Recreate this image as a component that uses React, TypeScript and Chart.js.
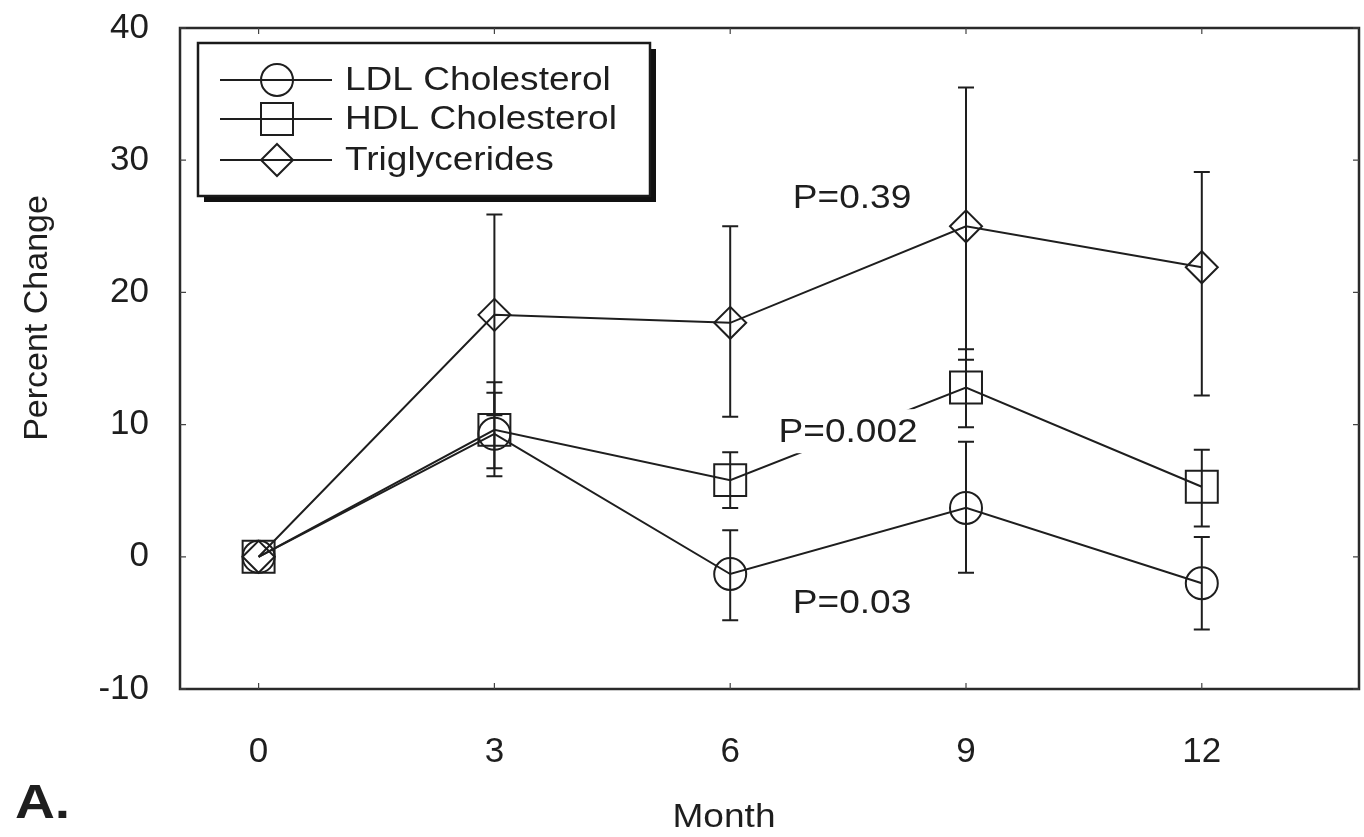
import React, { useEffect, useRef } from 'react';
import { Chart, registerables } from 'chart.js';

Chart.register(...registerables);

// Study visits (months) and axis ticks
const months = [0, 3, 6, 9, 12];
const monthTicks = [0, 3, 6, 9, 12];
const percentTicks = [-10, 0, 10, 20, 30, 40];

const seriesLabels = ['LDL Cholesterol', 'HDL Cholesterol', 'Triglycerides'];

// Mean percent change from baseline
const ldlMean = [0, 9.3, -1.3, 3.7, -2.0];
const hdlMean = [0, 9.6, 5.8, 12.8, 5.3];
const tgMean = [0, 18.3, 17.7, 25.0, 21.9];

// Error bar limits (null = no bar at baseline)
const ldlHigh = [null, 12.4, 2.0, 8.7, 1.5];
const ldlLow = [null, 6.7, -4.8, -1.2, -5.5];
const hdlHigh = [null, 13.2, 7.9, 15.7, 8.1];
const hdlLow = [null, 6.1, 3.7, 9.8, 2.3];
const tgHigh = [null, 25.9, 25.0, 35.5, 29.1];
const tgLow = [null, 10.7, 10.6, 14.9, 12.2];

// P-value notes, placed in data coordinates
const pLabels = ['P=0.39', 'P=0.002', 'P=0.03'];
const pLabelMonth = [7.55, 7.5, 7.55];
const pLabelValue = [27.2, 9.5, -3.5];

const FONT = '"Liberation Sans", Arial, Helvetica, sans-serif';
const INK = '#1e1e1e';
const WIDE = 1.09; // lettering is set slightly wide

const pointStyles = ['circle', 'rect', 'rectRot'];
const pointRadii = [16, 22.6, 16];

function wideText(ctx: CanvasRenderingContext2D, text: string, x: number, y: number, sx: number) {
  ctx.save();
  ctx.translate(x, y);
  ctx.scale(sx, 1);
  ctx.fillText(text, 0, 0);
  ctx.restore();
}

function drawMarker(ctx: CanvasRenderingContext2D, style: string, x: number, y: number) {
  ctx.beginPath();
  if (style === 'circle') {
    ctx.arc(x, y, 16, 0, Math.PI * 2);
  } else if (style === 'rect') {
    ctx.rect(x - 16, y - 16, 32, 32);
  } else {
    ctx.moveTo(x, y - 16);
    ctx.lineTo(x + 16, y);
    ctx.lineTo(x, y + 16);
    ctx.lineTo(x - 16, y);
    ctx.closePath();
  }
  ctx.stroke();
}

const framePlugin = {
  id: 'frame',
  beforeDatasetsDraw(chart: any) {
    const { ctx, chartArea: a, scales } = chart;
    ctx.save();
    ctx.strokeStyle = '#2a2a2a';
    ctx.lineWidth = 2.5;
    ctx.strokeRect(a.left, a.top, a.right - a.left, a.bottom - a.top);
    ctx.lineWidth = 1.2;
    ctx.strokeStyle = '#444';
    ctx.beginPath();
    monthTicks.forEach((m) => {
      const x = scales.x.getPixelForValue(m);
      ctx.moveTo(x, a.bottom);
      ctx.lineTo(x, a.bottom - 6);
      ctx.moveTo(x, a.top);
      ctx.lineTo(x, a.top + 6);
    });
    percentTicks.forEach((v) => {
      const y = scales.y.getPixelForValue(v);
      ctx.moveTo(a.left, y);
      ctx.lineTo(a.left + 6, y);
      ctx.moveTo(a.right, y);
      ctx.lineTo(a.right - 6, y);
    });
    ctx.stroke();
    ctx.restore();
  },
};

const errorBarPlugin = {
  id: 'errorBars',
  afterDatasetsDraw(chart: any) {
    const { ctx, scales } = chart;
    const highs = [ldlHigh, hdlHigh, tgHigh];
    const lows = [ldlLow, hdlLow, tgLow];
    ctx.save();
    ctx.strokeStyle = INK;
    ctx.lineWidth = 2;
    highs.forEach((hi, s) => {
      hi.forEach((h, i) => {
        const l = lows[s][i];
        if (h === null || l === null) return;
        const x = scales.x.getPixelForValue(months[i]);
        const yh = scales.y.getPixelForValue(h);
        const yl = scales.y.getPixelForValue(l);
        ctx.beginPath();
        ctx.moveTo(x, yh);
        ctx.lineTo(x, yl);
        ctx.moveTo(x - 8, yh);
        ctx.lineTo(x + 8, yh);
        ctx.moveTo(x - 8, yl);
        ctx.lineTo(x + 8, yl);
        ctx.stroke();
      });
    });
    ctx.restore();
  },
};

const notesPlugin = {
  id: 'notes',
  afterDatasetsDraw(chart: any) {
    const { ctx, scales } = chart;
    ctx.save();
    ctx.font = `34px ${FONT}`;
    ctx.textAlign = 'center';
    ctx.textBaseline = 'middle';
    pLabels.forEach((t, i) => {
      const x = scales.x.getPixelForValue(pLabelMonth[i]);
      const y = scales.y.getPixelForValue(pLabelValue[i]);
      const w = ctx.measureText(t).width * WIDE;
      ctx.fillStyle = '#ffffff';
      ctx.fillRect(x - w / 2 - 3, y - 22, w + 6, 44);
      ctx.fillStyle = INK;
      wideText(ctx, t, x, y + 1, WIDE);
    });
    ctx.restore();
  },
};

const legendPlugin = {
  id: 'boxLegend',
  afterDraw(chart: any) {
    const { ctx } = chart;
    const left = 198, top = 43, right = 650, bottom = 196;
    ctx.save();
    ctx.fillStyle = '#111';
    ctx.fillRect(left + 6, top + 6, right - left, bottom - top);
    ctx.fillStyle = '#fff';
    ctx.fillRect(left, top, right - left, bottom - top);
    ctx.strokeStyle = '#1a1a1a';
    ctx.lineWidth = 2.5;
    ctx.strokeRect(left, top, right - left, bottom - top);
    const rows = [80, 119, 160];
    ctx.lineWidth = 2;
    ctx.strokeStyle = INK;
    ctx.fillStyle = INK;
    ctx.font = `34px ${FONT}`;
    ctx.textBaseline = 'middle';
    ctx.textAlign = 'left';
    seriesLabels.forEach((label, i) => {
      const y = rows[i];
      ctx.beginPath();
      ctx.moveTo(220, y);
      ctx.lineTo(332, y);
      ctx.stroke();
      drawMarker(ctx, pointStyles[i], 277, y);
      wideText(ctx, label, 345, y + 1, WIDE);
    });
    ctx.restore();
  },
};

const titlesPlugin = {
  id: 'titles',
  afterDraw(chart: any) {
    const { ctx } = chart;
    ctx.save();
    ctx.fillStyle = INK;
    ctx.textAlign = 'center';
    ctx.textBaseline = 'middle';
    ctx.font = `34px ${FONT}`;
    wideText(ctx, 'Month', 724, 818, WIDE);
    ctx.save();
    ctx.translate(38, 318);
    ctx.rotate(-Math.PI / 2);
    ctx.fillText('Percent Change', 0, 0);
    ctx.restore();
    ctx.font = `bold 48px ${FONT}`;
    ctx.textAlign = 'left';
    wideText(ctx, 'A.', 15, 805, 1.15);
    ctx.restore();
  },
};

function makeDataset(label: string, values: number[], i: number) {
  return {
    label,
    data: months.map((m, k) => ({ x: m, y: values[k] })),
    borderColor: INK,
    borderWidth: 2,
    pointStyle: pointStyles[i],
    pointRadius: pointRadii[i],
    pointBorderWidth: 2,
    pointBorderColor: INK,
    pointBackgroundColor: 'rgba(0,0,0,0)',
    tension: 0,
    fill: false,
  };
}

export default function App() {
  const canvasRef = useRef<HTMLCanvasElement | null>(null);

  useEffect(() => {
    document.body.style.margin = '0';
    const canvas = canvasRef.current;
    if (!canvas) return;
    const tickFont = { family: FONT, size: 35 };
    const chart = new Chart(canvas, {
      type: 'line',
      data: {
        datasets: [
          makeDataset(seriesLabels[0], ldlMean, 0),
          makeDataset(seriesLabels[1], hdlMean, 1),
          makeDataset(seriesLabels[2], tgMean, 2),
        ],
      },
      options: {
        responsive: false,
        animation: false,
        layout: { autoPadding: false, padding: { top: 28, right: 5, left: 0, bottom: 0 } },
        plugins: {
          legend: { display: false },
          tooltip: { enabled: false },
        },
        scales: {
          x: {
            type: 'linear',
            min: -1,
            max: 14,
            afterBuildTicks: (s: any) => {
              s.ticks = monthTicks.map((v) => ({ value: v }));
            },
            afterFit: (s: any) => {
              s.height = 148;
              s.paddingLeft = 0;
              s.paddingRight = 0;
            },
            grid: { display: false, drawTicks: false },
            border: { display: false },
            ticks: { font: tickFont, color: INK, padding: 42, maxRotation: 0 },
          },
          y: {
            type: 'linear',
            min: -10,
            max: 40,
            afterBuildTicks: (s: any) => {
              s.ticks = percentTicks.map((v) => ({ value: v }));
            },
            afterFit: (s: any) => {
              s.width = 180;
              s.paddingTop = 0;
              s.paddingBottom = 0;
            },
            grid: { display: false, drawTicks: false },
            border: { display: false },
            ticks: { font: tickFont, color: INK, padding: 31 },
          },
        },
      } as any,
      plugins: [framePlugin, errorBarPlugin, notesPlugin, legendPlugin, titlesPlugin],
    });
    return () => chart.destroy();
  }, []);

  return (
    <canvas
      ref={canvasRef}
      width={1364}
      height={837}
      style={{ display: 'block', width: 1364, height: 837, background: '#fff' }}
    />
  );
}
